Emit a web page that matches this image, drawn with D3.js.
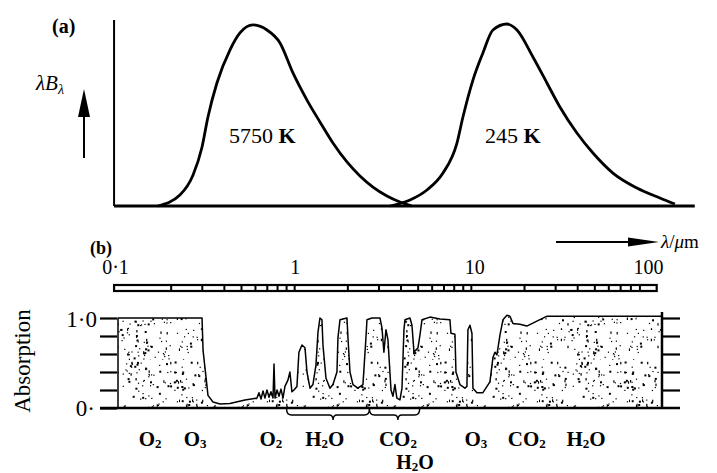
<!DOCTYPE html>
<html>
<head>
<meta charset="utf-8">
<script src="https://cdn.jsdelivr.net/npm/d3@7"></script>
<style>
  body { margin: 0; background: #fff; }
  svg { display: block; }
  text { font-family: "Liberation Serif", "Times New Roman", serif; fill: #000; }
</style>
</head>
<body>
<svg id="chart" width="717" height="473"></svg>
<script>
// Wavelength ruler (micrometres)
const waveTicks = [0.1, 1, 10, 100];
const waveTickLabels = ["0·1", "1", "10", "100"];

// (a) normalised blackbody curves, lambda*B_lambda
const sunWave   = [0.168, 0.224, 0.266, 0.299, 0.323, 0.363, 0.430, 0.490, 0.581, 0.697, 0.826, 0.978, 1.174, 1.39, 1.647, 1.977, 2.342, 2.774, 3.33, 3.944, 4.61];
const sunPower  = [0.0,   0.06,  0.17,  0.324, 0.489, 0.676, 0.857, 0.951, 0.995, 0.967, 0.896, 0.731, 0.582, 0.462, 0.346, 0.242, 0.165, 0.104, 0.055, 0.022, 0.0];
const earthWave  = [3.467, 4.495, 5.608, 6.909, 8.289, 8.964, 10.21, 11.63, 13.25, 15.9, 18.12, 22.32, 26.79, 31.72, 39.6, 48.8, 63.3, 86.5, 116.8, 142];
const earthPower = [0.0,   0.033, 0.088, 0.181, 0.346, 0.489, 0.692, 0.841, 0.967, 1.0,  0.967, 0.819, 0.676, 0.544, 0.401, 0.291, 0.181, 0.099, 0.044, 0.011];

// (b) atmospheric absorption spectrum
const absWave = [0.1, 0.299, 0.303, 0.315, 0.323, 0.345, 0.378, 0.43, 0.523, 0.612,
  0.628, 0.645, 0.662, 0.679, 0.697, 0.716, 0.734, 0.754, 0.764, 0.774,
  0.795, 0.815, 0.837, 0.859, 0.881, 0.916, 0.94, 0.965, 0.991, 1.03,
  1.057, 1.10, 1.144, 1.174, 1.221, 1.269, 1.32, 1.355, 1.39, 1.427,
  1.446, 1.504, 1.584, 1.647, 1.735, 1.758, 1.805, 1.977, 2.003, 2.056,
  2.138, 2.28, 2.435, 2.532, 2.566, 2.738, 3.04, 3.12, 3.20, 3.287,
  3.373, 3.51, 3.60, 3.695, 3.79, 3.944, 4.05, 4.155, 4.21, 4.495,
  4.613, 4.735, 4.99, 5.119, 5.254, 5.833, 6.643, 7.567, 7.667, 8.077,
  8.184, 8.62, 9.20, 9.44, 9.567, 9.82, 10.08, 10.21, 10.76, 11.63,
  12.74, 13.25, 13.6, 13.96, 14.52, 15.1, 15.9, 16.54, 17.2, 18.84,
  20.6, 26.8, 120];
const absValue = [1.0, 1.0, 0.64, 0.34, 0.14, 0.067, 0.044, 0.05, 0.09, 0.11,
  0.17, 0.10, 0.19, 0.11, 0.20, 0.12, 0.18, 0.11, 0.49, 0.11,
  0.20, 0.13, 0.21, 0.11, 0.24, 0.31, 0.40, 0.18, 0.20, 0.24,
  0.62, 0.70, 0.67, 0.40, 0.22, 0.26, 0.48, 0.84, 1.0, 0.98,
  0.70, 0.33, 0.22, 0.26, 0.40, 0.78, 0.98, 1.0, 0.78, 0.40,
  0.26, 0.22, 0.26, 0.78, 0.98, 1.0, 1.0, 0.89, 0.62, 0.87,
  0.76, 0.20, 0.13, 0.26, 0.11, 0.09, 0.22, 0.87, 0.98, 1.0,
  0.92, 0.62, 0.67, 0.81, 0.98, 1.01, 0.99, 0.98, 0.83, 0.82,
  0.40, 0.26, 0.22, 0.24, 0.87, 0.92, 0.83, 0.22, 0.17, 0.17,
  0.29, 0.56, 0.62, 0.59, 0.81, 0.98, 1.03, 1.02, 0.94, 0.93,
  0.91, 1.02, 1.02];
const absTicks = [0, 0.2, 0.4, 0.6, 0.8, 1.0];

// absorbing gases and their band positions
const gasNames = [["O","2"], ["O","3"], ["O","2"], ["H","2","O"], ["CO","2"], ["O","3"], ["CO","2"], ["H","2","O"], ["H","2","O"]];
const gasWave  = [0.152, 0.273, 0.734, 1.48, 3.84, 10.6, 20.6, 44.6, 4.8];
const gasRow   = [0, 0, 0, 0, 0, 0, 0, 0, 1];
const braceFrom = [0.9, 2.65];
const braceTip  = [1.65, 3.84];
const braceTo   = [2.65, 5.1];

const svg = d3.select("#chart");

const x = d3.scaleLog().domain([0.1, 100]).range([118, 648]);
const yA = d3.scaleLinear().domain([0, 1]).range([206, 24]);
const yB = d3.scaleLinear().domain([0, 1]).range([408, 318]);

// stipple texture for the absorbing area (fixed-seed dot layout)
const defs = svg.append("defs");
const tile = 90;
const pat = defs.append("pattern").attr("id", "stipple")
  .attr("patternUnits", "userSpaceOnUse").attr("width", tile).attr("height", tile);
pat.append("rect").attr("width", tile).attr("height", tile).attr("fill", "#fff");
let seed = 987654;
function lcg() { seed = (seed * 1103515245 + 12345) % 2147483648; return seed / 2147483648; }
for (let i = 0; i < 230; i++) {
  const r = lcg();
  const w = r < 0.25 ? 2 : 1.2;
  const h = r > 0.85 ? 2.5 : w;
  pat.append("rect").attr("x", (lcg() * tile).toFixed(1)).attr("y", (lcg() * tile).toFixed(1))
    .attr("width", w).attr("height", h).attr("fill", "#000");
}

// ---------- panel (a) ----------
const gA = svg.append("g");
gA.append("line").attr("x1", x(0.095)).attr("x2", x(0.095)).attr("y1", 20).attr("y2", yA(0))
  .attr("stroke", "#000").attr("stroke-width", 2);
gA.append("line").attr("x1", x(0.095)).attr("x2", x(184)).attr("y1", yA(0)).attr("y2", yA(0))
  .attr("stroke", "#000").attr("stroke-width", 3);

const curveA = d3.line().x(d => x(d[0])).y(d => yA(d[1])).curve(d3.curveMonotoneX);
gA.append("path").datum(d3.zip(sunWave, sunPower)).attr("d", curveA)
  .attr("fill", "none").attr("stroke", "#000").attr("stroke-width", 2.8);
gA.append("path").datum(d3.zip(earthWave, earthPower)).attr("d", curveA)
  .attr("fill", "none").attr("stroke", "#000").attr("stroke-width", 2.8);

function tempLabel(px, py, num) {
  const t = gA.append("text").attr("x", px).attr("y", py).attr("font-size", 22);
  t.append("tspan").text(num + " ");
  t.append("tspan").attr("font-weight", "bold").text("K");
}
tempLabel(229, 143, "5750");
tempLabel(485, 143, "245");

gA.append("text").attr("x", 52).attr("y", 33).attr("font-size", 20).attr("font-weight", "bold").text("(a)");
const lb = gA.append("text").attr("x", 36).attr("y", 90).attr("font-size", 21).attr("font-style", "italic");
lb.append("tspan").text("λB");
lb.append("tspan").attr("font-size", 14).attr("dy", 4).text("λ");
gA.append("line").attr("x1", 84).attr("x2", 84).attr("y1", 158).attr("y2", 110)
  .attr("stroke", "#000").attr("stroke-width", 2);
gA.append("path").attr("d", "M84,89 L78,117 L90,117 Z").attr("fill", "#000");

// ---------- wavelength ruler ----------
const gR = svg.append("g");
gR.append("text").attr("x", 90).attr("y", 254).attr("font-size", 18).attr("font-weight", "bold").text("(b)");
const rulerTicks = [];
for (let e = -1; e <= 1; e++) for (let n = 1; n <= 9; n++) rulerTicks.push(n * Math.pow(10, e));
rulerTicks.push(100);
gR.append("rect").attr("x", x(0.095)).attr("y", 285).attr("width", x(112) - x(0.095)).attr("height", 6)
  .attr("fill", "none").attr("stroke", "#000").attr("stroke-width", 2.2);
gR.selectAll("line.rt").data(rulerTicks.filter(v => v > 0.1 && v < 100)).join("line").attr("class", "rt")
  .attr("x1", d => x(d)).attr("x2", d => x(d)).attr("y1", 285).attr("y2", 291)
  .attr("stroke", "#000").attr("stroke-width", 2);

const axTop = d3.axisTop(x).tickValues(waveTicks).tickSize(0)
  .tickFormat((d, i) => waveTickLabels[i]);
const axG = gR.append("g").attr("transform", "translate(0,277)").call(axTop);
axG.select(".domain").remove();
axG.selectAll("text").attr("font-size", 20).attr("dy", 0)
  .style("font-family", '"Liberation Serif", serif');
axG.selectAll(".tick").filter(d => d === 0.1).select("text").attr("dx", -3);
axG.selectAll(".tick").filter(d => d === 10).select("text").attr("dx", 3);

gR.append("line").attr("x1", 556).attr("x2", 632).attr("y1", 242).attr("y2", 242)
  .attr("stroke", "#000").attr("stroke-width", 2);
gR.append("path").attr("d", "M659,242 L628,237.5 L628,246.5 Z").attr("fill", "#000");
const wl = gR.append("text").attr("x", 661).attr("y", 248).attr("font-size", 19);
wl.append("tspan").attr("font-style", "italic").text("λ");
wl.append("tspan").text("/");
wl.append("tspan").attr("font-style", "italic").text("μ");
wl.append("tspan").text("m");

// ---------- panel (b) ----------
const gB = svg.append("g");
const area = d3.area().x(d => x(d[0])).y0(yB(0)).y1(d => yB(d[1]));
gB.append("path").datum(d3.zip(absWave, absValue)).attr("d", area)
  .attr("fill", "url(#stipple)").attr("stroke", "#000").attr("stroke-width", 1.5)
  .attr("stroke-linejoin", "round");

const axL = d3.axisLeft(yB).tickValues(absTicks).tickSize(17).tickFormat("");
const gL = gB.append("g").attr("transform", `translate(${x(0.1) - 1},0)`).call(axL);
gL.select(".domain").remove();
gL.selectAll("line").attr("stroke-width", 2.2);
const axR = d3.axisRight(yB).tickValues(absTicks.slice(1)).tickSize(18).tickFormat("");
const gRt = gB.append("g").attr("transform", `translate(${x(120)},0)`).call(axR);
gRt.select(".domain").remove();
gRt.selectAll("line").attr("stroke-width", 2.2);
gB.append("line").attr("x1", x(120)).attr("x2", x(120)).attr("y1", 312).attr("y2", yB(0))
  .attr("stroke", "#000").attr("stroke-width", 2.5);
gB.append("line").attr("x1", 100).attr("x2", x(120) + 18).attr("y1", yB(0)).attr("y2", yB(0))
  .attr("stroke", "#000").attr("stroke-width", 2.5);

gB.append("text").attr("x", 97).attr("y", 327).attr("font-size", 23).attr("text-anchor", "end").text("1·0");
gB.append("text").attr("x", 95).attr("y", 416).attr("font-size", 23).attr("text-anchor", "end").text("0·");
gB.append("text").attr("transform", "translate(30,361) rotate(-90)").attr("text-anchor", "middle")
  .attr("font-size", 23).text("Absorption");

// braces under the band groups
braceFrom.forEach((f, i) => {
  const x1 = x(f), x2 = x(braceTo[i]), xm = x(braceTip[i]), y0 = yB(0) + 1;
  const p = `M${x1},${y0} q0,6 5,6 L${xm - 4},${y0 + 6} q4,0 4,5 q0,-5 4,-5 L${x2 - 5},${y0 + 6} q5,0 5,-6`;
  gB.append("path").attr("d", p).attr("fill", "none").attr("stroke", "#000").attr("stroke-width", 1.4);
});

// gas labels
gasNames.forEach((parts, i) => {
  const t = gB.append("text").attr("x", x(gasWave[i])).attr("y", gasRow[i] ? 469 : 446)
    .attr("text-anchor", "middle").attr("font-size", gasRow[i] ? 20 : 21).attr("font-weight", "bold");
  parts.forEach((p, j) => {
    const sub = /\d/.test(p);
    const ts = t.append("tspan").text(p);
    if (sub) ts.attr("font-size", 13).attr("dy", 2);
    else if (j > 0) ts.attr("dy", -2);
  });
});
</script>
</body>
</html>
